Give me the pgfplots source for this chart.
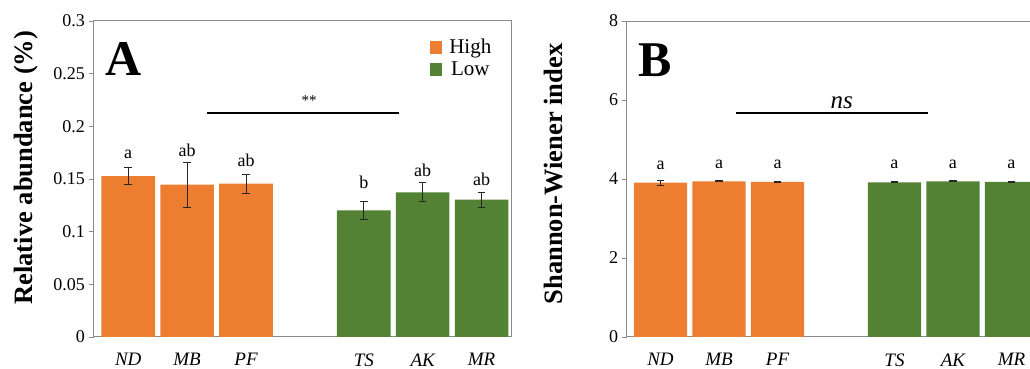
\documentclass[border=0pt]{standalone}
\usepackage{fontspec}
\setmainfont{Liberation Serif}
\usepackage{pgfplots}
\pgfplotsset{compat=1.18}
\usepackage{pgfplotstable}
\definecolor{orangeC}{HTML}{ED7D31}
\definecolor{greenC}{HTML}{548235}
\definecolor{axC}{HTML}{8A8A8A}

\pgfplotstableread{
x y e
0 0.1528 0.0078
1 0.1446 0.0211
2 0.1455 0.0089
}\Ahigh
\pgfplotstableread{
x y e
4 0.1203 0.0083
5 0.1374 0.0090
6 0.1304 0.0073
}\Alow
\pgfplotstableread{
x y e
0 3.906 0.07
1 3.940 0.012
2 3.930 0.012
}\Bhigh
\pgfplotstableread{
x y e
4 3.915 0.012
5 3.940 0.012
6 3.930 0.020
}\Blow

\pgfplotsset{
  sqlegend/.style={legend image code/.code={\fill[##1] (0pt,-6.5pt) rectangle (12.5pt,6.5pt);}},
  barA/.style={ybar, bar width=0.91, bar shift=0pt, draw=none, fill=#1, sqlegend,
    error bars/.cd, y dir=both, y explicit,
    error bar style={black!85, line width=0.8pt},
    error mark options={rotate=90, black!85, line width=0.8pt, mark size=3.8pt},
    /pgfplots/.cd},
  myax/.style={
    scale only axis, clip=false,
    axis line style={axC, line width=1pt},
    xmin=-0.59, xmax=6.5, ymin=0,
    xtick={0,1,2,4,5,6},
    xticklabels={ND,MB,PF,TS,AK,MR},
    xticklabel style={font=\fontsize{19}{19}\selectfont\itshape, yshift=-8pt},
    x tick style={draw=none},
    ytick pos=left, tick align=outside, major tick length=5pt,
    y tick style={axC, line width=0.9pt},
    yticklabel style={font=\fontsize{18}{18}\selectfont},
    ylabel style={font=\fontsize{26.5}{27}\selectfont\bfseries, anchor=center},
    /pgf/number format/assume math mode=true,
  },
}

\begin{document}
\begin{tikzpicture}
\path[use as bounding box] (0,0) rectangle (1030pt,369pt);
\clip (0,0) rectangle (1030pt,369pt);

% Panel A
\begin{axis}[myax,
  at={(93.5pt,32pt)}, anchor=south west,
  width=417.5pt, height=316pt,
  ymax=0.3,
  ytick={0,0.05,0.1,0.15,0.2,0.25,0.3},
  yticklabels={0,0.05,0.1,0.15,0.2,0.25,0.3},
  ylabel={Relative abundance (\%)},
  ylabel style={at={(axis description cs:-0.162,0.536)}},
  legend style={at={(axis description cs:0.805,0.95)}, anchor=north west,
    draw=none, fill=none, inner sep=0pt, row sep=3pt,
    font=\fontsize{21}{22}\selectfont,
    /tikz/every odd column/.append style={column sep=5pt}},
]
\addplot[barA=orangeC] table[x=x,y=y,y error=e] {\Ahigh};
\addlegendentry{High}
\addplot[barA=greenC] table[x=x,y=y,y error=e] {\Alow};
\addlegendentry{Low}
\addplot[black, line width=1.5pt, forget plot] coordinates {(1.33,0.2127) (4.59,0.2127)};
\node[anchor=base, font=\fontsize{15}{15}\selectfont] at (axis cs:3.07,0.2198) {**};
\node[anchor=base west, font=\fontsize{50}{50}\selectfont\bfseries, inner sep=0pt] at (axis description cs:0.0275,0.829) {A};
\begin{scope}[every node/.style={anchor=base, inner sep=0pt, font=\fontsize{18}{18}\selectfont}]
\node at (axis cs:0,0.169) {a};
\node at (axis cs:1,0.171) {ab};
\node at (axis cs:2,0.1623) {ab};
\node at (axis cs:4,0.1409) {b};
\node at (axis cs:5,0.1528) {ab};
\node at (axis cs:6,0.1443) {ab};
\end{scope}
\end{axis}

% Panel B
\begin{axis}[myax,
  at={(626.7pt,32pt)}, anchor=south west,
  width=414pt, height=316pt,
  xmin=-0.578,
  ymax=8,
  ytick={0,2,4,6,8},
  ylabel={Shannon-Wiener index},
  ylabel style={at={(axis description cs:-0.178,0.516)}},
]
\addplot[forget plot, barA=orangeC] table[x=x,y=y,y error=e] {\Bhigh};
\addplot[forget plot, barA=greenC] table[x=x,y=y,y error=e] {\Blow};
\addplot[black, line width=1.5pt, forget plot] coordinates {(1.29,5.67) (4.57,5.67)};
\node[anchor=base, font=\fontsize{25}{25}\selectfont\itshape] at (axis cs:3.10,5.79) {ns};
\node[anchor=base west, font=\fontsize{50}{50}\selectfont\bfseries, inner sep=0pt] at (axis description cs:0.027,0.824) {B};
\begin{scope}[every node/.style={anchor=base, inner sep=0pt, font=\fontsize{18}{18}\selectfont}]
\node at (axis cs:0,4.23) {a};
\node at (axis cs:1,4.27) {a};
\node at (axis cs:2,4.27) {a};
\node at (axis cs:4,4.27) {a};
\node at (axis cs:5,4.27) {a};
\node at (axis cs:6,4.27) {a};
\end{scope}
\end{axis}
\end{tikzpicture}
\end{document}
